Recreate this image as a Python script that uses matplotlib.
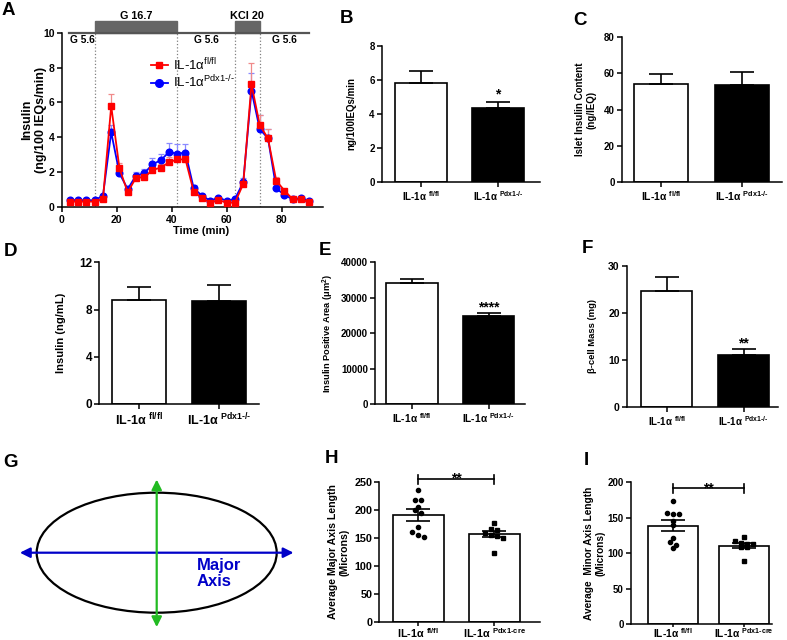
import numpy as np
import matplotlib
matplotlib.use("Agg")
import matplotlib.pyplot as plt
from matplotlib.patches import Ellipse, Rectangle, FancyArrowPatch
from matplotlib.lines import Line2D

plt.rcParams["font.family"] = ["Liberation Sans", "DejaVu Sans"]
plt.rcParams["font.weight"] = "bold"
plt.rcParams["mathtext.default"] = "regular"
plt.rcParams["axes.linewidth"] = 1.1

RED = "#FF0000"
BLUE = "#0000FF"
RED_ERR = "#F08A8A"
BLUE_ERR = "#8A8AFF"
DIAG_BLUE = "#0000C8"
DIAG_GREEN = "#22BB22"

# ---- perifusion (panel A) ----
TIME = [3, 6, 9, 12, 15, 18, 21, 24, 27, 30, 33, 36, 39, 42, 45,
        48, 51, 54, 57, 60, 63, 66, 69, 72, 75, 78, 81, 84, 87, 90]
FLFL_INS = [0.31, 0.31, 0.31, 0.31, 0.46, 5.79, 2.22, 0.84, 1.68, 1.70,
            2.12, 2.26, 2.56, 2.73, 2.73, 0.88, 0.52, 0.25, 0.40, 0.25,
            0.25, 1.32, 7.04, 4.70, 3.94, 1.51, 0.94, 0.44, 0.44, 0.27]
FLFL_SEM = [0.05, 0.05, 0.05, 0.05, 0.08, 0.68, 0.28, 0.12, 0.22, 0.15,
            0.18, 0.18, 0.29, 0.20, 0.20, 0.12, 0.08, 0.05, 0.06, 0.05,
            0.05, 0.20, 1.20, 0.60, 0.56, 0.23, 0.12, 0.06, 0.06, 0.05]
KO_INS = [0.42, 0.38, 0.38, 0.38, 0.65, 4.28, 1.93, 1.03, 1.80, 1.93,
          2.45, 2.68, 3.15, 3.06, 3.12, 1.07, 0.65, 0.36, 0.53, 0.36,
          0.46, 1.42, 6.67, 4.47, 3.94, 1.07, 0.69, 0.44, 0.50, 0.36]
KO_SEM = [0.05, 0.05, 0.05, 0.05, 0.08, 0.42, 0.15, 0.12, 0.20, 0.25,
          0.34, 0.34, 0.54, 0.54, 0.51, 0.18, 0.08, 0.05, 0.06, 0.05,
          0.06, 0.26, 1.03, 0.81, 0.56, 0.15, 0.10, 0.06, 0.06, 0.05]
STIM_NAMES = ["G 16.7", "KCl 20"]
STIM_ON = [12, 63]
STIM_OFF = [42, 72]
BASAL_NAME = "G 5.6"

# ---- bar panels ----
HY = "\u2010"  # plain hyphen (mathtext turns "-" into a minus sign)
GROUPS = ["IL-1α $^{fl/fl}$", "IL-1α $^{Pdx1" + HY + "/" + HY + "}$"]
GROUPS_CRE = ["IL-1α $^{fl/fl}$", "IL-1α $^{Pdx1" + HY + "cre}$"]
LEGEND = ["IL-1α$^{fl/fl}$", "IL-1α$^{Pdx1" + HY + "/" + HY + "}$"]

AUC_MEAN = [5.80, 4.32]
AUC_SEM = [0.73, 0.36]
CONTENT_MEAN = [54.0, 53.6]
CONTENT_SEM = [5.7, 7.3]
PLASMA_MEAN = [8.81, 8.75]
PLASMA_SEM = [1.10, 1.35]
AREA_MEAN = [34200, 24900]
AREA_SEM = [1000, 850]
MASS_MEAN = [24.7, 11.0]
MASS_SEM = [3.0, 1.4]

MAJOR_FLFL = [235, 218, 218, 205, 200, 195, 169, 160, 155, 151]
MAJOR_KO = [177, 166, 165, 158, 156, 153, 150, 124]
MAJOR_MEAN = [190.8, 156.2]
MAJOR_SEM = [10.0, 5.3]
MINOR_FLFL = [174, 157, 155, 155, 146, 140, 122, 116, 111, 108]
MINOR_KO = [123, 117, 114, 113, 113, 109, 109, 89]
MINOR_MEAN = [138.7, 110.7]
MINOR_SEM = [7.8, 3.5]

# ---- schematic (panel G) ----
ELLIPSE_SEMI = (2.0, 1.0)
MAJOR_ARROW = 2.28
MINOR_ARROW = (-1.24, 1.22)

W, H = 787, 640
fig = plt.figure(figsize=(W / 100, H / 100), dpi=100)
fig.patch.set_facecolor("white")


def px_axes(left, right, bottom, top):
    return fig.add_axes([left / W, 1 - bottom / H, (right - left) / W, (bottom - top) / H])


def px_text(x, y, s, **kw):
    fig.text(x / W, 1 - y / H, s, **kw)


def prism_axes(ax, yfs, xfs, xpad=2):
    ax.spines["top"].set_visible(False)
    ax.spines["right"].set_visible(False)
    ax.tick_params(axis="y", direction="out", length=3.5, width=1.1, labelsize=yfs, pad=1.5)
    ax.tick_params(axis="x", direction="out", length=3.5, width=1.1, labelsize=xfs, pad=xpad)


def swarm(vals, ppu_y, row_px=6.0, gap_px=6.0):
    vals = np.asarray(vals, float)
    rows = np.floor(vals * ppu_y / row_px)
    offs = np.zeros(len(vals))
    for r in np.unique(rows):
        idx = np.where(rows == r)[0]
        offs[idx] = (np.arange(len(idx)) - (len(idx) - 1) / 2) * gap_px
    return offs


def bar_panel(box, centers, bar_px, means, sems, ymax, ystep, ylabel, label_x, fs,
              labels=GROUPS, fills=("white", "black"), both=False, dots=None, xpad=2):
    left, right, bottom, top = box
    ax = px_axes(left, right, bottom, top)
    unit = centers[1] - centers[0]
    x = np.arange(2)
    ax.set_xlim((left - centers[0]) / unit, (right - centers[0]) / unit)
    ax.set_ylim(0, ymax)
    ax.bar(x, means, bar_px / unit, color=fills, edgecolor="black", linewidth=1.2, zorder=2)
    yerr = np.array(sems) if both else [np.zeros(2), sems]
    ax.errorbar(x, means, yerr=yerr, fmt="none", ecolor="black", elinewidth=1.2,
                capsize=8.5, capthick=1.2, zorder=3)
    ax.set_yticks(np.arange(0, ymax + ystep / 2, ystep))
    ax.set_xticks(x)
    ax.set_xticklabels(labels)
    prism_axes(ax, fs[0], fs[1], xpad)
    px_text(label_x, (bottom + top) / 2, ylabel, rotation=90, ha="center", va="center",
            fontsize=fs[2], multialignment="center")
    if dots is not None:
        ppu_y = (bottom - top) / ymax
        for i, (vals, mk) in enumerate(zip(dots, ("o", "s"))):
            offs = swarm(vals, ppu_y) / unit
            ax.plot(i + offs, vals, mk, color="black", ms=3, zorder=4, clip_on=False)
    return ax


def bracket(ax, y, tick, text_y, fs=10):
    ax.plot([0, 1], [y, y], color="black", lw=1.2, clip_on=False)
    for xx in (0, 1):
        ax.plot([xx, xx], [y - tick, y + tick], color="black", lw=1.2, clip_on=False)
    ax.text(0.5, text_y, "**", ha="center", va="baseline", fontsize=fs)


# ---------------- A: perifusion ----------------
axA = px_axes(61.7, 323, 207, 32.7)
axA.set_xlim(0, 95)
axA.set_ylim(0, 10)
for t0 in STIM_ON + STIM_OFF:
    axA.plot([t0, t0], [0, 10], color="#808080", lw=0.9, ls=":", zorder=1)
n = len(TIME)
axA.errorbar(TIME, KO_INS, yerr=[np.zeros(n), KO_SEM], fmt="none", ecolor=BLUE_ERR,
             elinewidth=0.9, capsize=2.5, capthick=0.9, zorder=2)
axA.errorbar(TIME, FLFL_INS, yerr=[np.zeros(n), FLFL_SEM], fmt="none", ecolor=RED_ERR,
             elinewidth=0.9, capsize=2.5, capthick=0.9, zorder=2)
axA.plot(TIME, KO_INS, "-o", color=BLUE, ms=4.8, lw=1.3, zorder=3)
axA.plot(TIME, FLFL_INS, "-s", color=RED, ms=4.4, lw=1.3, zorder=4)

# stimulation protocol bar above the trace
axA.plot([TIME[0] - 0.5, TIME[-1]], [10, 10], color="#555555", lw=1.6, clip_on=False)
for name, on, off in zip(STIM_NAMES, STIM_ON, STIM_OFF):
    axA.add_patch(Rectangle((on, 10), off - on, 0.69, color="#666666", clip_on=False))
    axA.text((on + off) / 2, 10.98, name, ha="center", va="center", fontsize=7.8)
edges = [TIME[0]] + [v for pair in zip(STIM_ON, STIM_OFF) for v in pair] + [TIME[-1]]
for a, b in zip(edges[::2], edges[1::2]):
    axA.text((a + b) / 2, 9.56, BASAL_NAME, ha="center", va="center", fontsize=7.3)

axA.set_xticks([0, 20, 40, 60, 80])
axA.set_yticks([0, 2, 4, 6, 8, 10])
prism_axes(axA, 7.5, 7.5)
handles = [Line2D([], [], color=RED, marker="s", ms=5, lw=1.3),
           Line2D([], [], color=BLUE, marker="o", ms=5.5, lw=1.3)]
axA.legend(handles, LEGEND, loc="upper left", bbox_to_anchor=(0.34, 0.865), frameon=False,
           prop={"weight": "normal", "size": 9.5}, handlelength=1.3, handletextpad=0.4,
           borderpad=0, borderaxespad=0, labelspacing=0.1)
px_text(34, 120, "Insulin\n(ng/100 IEQs/min)", rotation=90, ha="center", va="center",
        fontsize=9, multialignment="center")
px_text(201, 231.5, "Time (min)", ha="center", va="center", fontsize=8)

# ---------------- B - F: bar graphs ----------------
axB = bar_panel((381.7, 540, 181.7, 46), (420.8, 498), 51.7, AUC_MEAN, AUC_SEM, 8, 2,
                "ng/100IEQs/min", 351.7, (7, 7, 7))
axB.text(1, 4.92, "*", ha="center", va="baseline", fontsize=10)

bar_panel((621.7, 781.7, 181.7, 37.3), (661, 742), 54, CONTENT_MEAN, CONTENT_SEM, 80, 20,
          "Islet Insulin Content\n(ng/IEQ)", 586, (7, 7.5, 7))

bar_panel((99, 259.3, 404, 262.3), (138.7, 218.8), 54, PLASMA_MEAN, PLASMA_SEM, 12, 4,
          "Insulin (ng/mL)", 61, (8.5, 9, 8))

axE = bar_panel((375, 525, 404, 262.3), (412, 488.5), 51.5, AREA_MEAN, AREA_SEM, 40000, 10000,
                "Insulin Positive Area (μm$^2$)", 328.3, (7, 7.3, 6.7))
axE.text(1, 26250, "****", ha="center", va="baseline", fontsize=10)

axF = bar_panel((626.7, 778, 406.7, 266), (666.5, 743.5), 51.6, MASS_MEAN, MASS_SEM, 30, 10,
                "β-cell Mass (mg)", 592.7, (7.5, 7, 6.8))
axF.text(1, 12.7, "**", ha="center", va="baseline", fontsize=10)

# ---------------- G: ellipse schematic ----------------
axG = px_axes(0, 320, 640, 470)
axG.set_xlim(-156.7 / 60, 163.3 / 60)
axG.set_ylim(-87.3 / 60, 82.7 / 60)
axG.axis("off")
axG.add_patch(Ellipse((0, 0), 2 * ELLIPSE_SEMI[0], 2 * ELLIPSE_SEMI[1], fill=False,
                      edgecolor="black", lw=1.6, zorder=1))
axG.add_patch(FancyArrowPatch((-MAJOR_ARROW, 0), (MAJOR_ARROW, 0), arrowstyle="<|-|>",
                              mutation_scale=15, color=DIAG_BLUE, lw=1.6,
                              shrinkA=0, shrinkB=0, zorder=2))
axG.add_patch(FancyArrowPatch((0, MINOR_ARROW[0]), (0, MINOR_ARROW[1]), arrowstyle="<|-|>",
                              mutation_scale=15, color=DIAG_GREEN, lw=1.6,
                              shrinkA=0, shrinkB=0, zorder=3))
axG.text(0.667, -0.088, "Major\nAxis", ha="left", va="top", fontsize=12,
         color=DIAG_BLUE, linespacing=1.05)

# ---------------- H, I: axis lengths ----------------
axH = bar_panel((379.3, 540, 622.3, 481.7), (418.3, 494.3), 51, MAJOR_MEAN, MAJOR_SEM, 250, 50,
                "Average Major Axis Length\n(Microns)", 339, (7.8, 7.8, 7.6),
                labels=GROUPS_CRE, fills=("white", "white"), both=True,
                dots=(MAJOR_FLFL, MAJOR_KO), xpad=0)
bracket(axH, 254, 8, 249)
axH.tick_params(axis="x", length=3)

axI = bar_panel((630.7, 771.7, 624.3, 482.3), (672.5, 744), 50, MINOR_MEAN, MINOR_SEM, 200, 50,
                "Average  Minor Axis Length\n(Microns)", 595, (7, 7.4, 7.3),
                labels=GROUPS_CRE, fills=("white", "white"), both=True,
                dots=(MINOR_FLFL, MINOR_KO), xpad=-0.8)
bracket(axI, 191.5, 6.3, 185.6)
axI.tick_params(axis="x", length=2.5)

# ---------------- panel letters ----------------
for letter, lx, ly in [("A", 2, 15), ("B", 340, 23.3), ("C", 573.3, 25),
                       ("D", 3.3, 256), ("E", 318.3, 255), ("F", 581.7, 253.3),
                       ("G", 3.3, 466.7), ("H", 325, 463.3), ("I", 583.3, 465)]:
    px_text(lx, ly, letter, ha="left", va="baseline", fontsize=13.5)

fig.savefig("out.png", dpi=100)
